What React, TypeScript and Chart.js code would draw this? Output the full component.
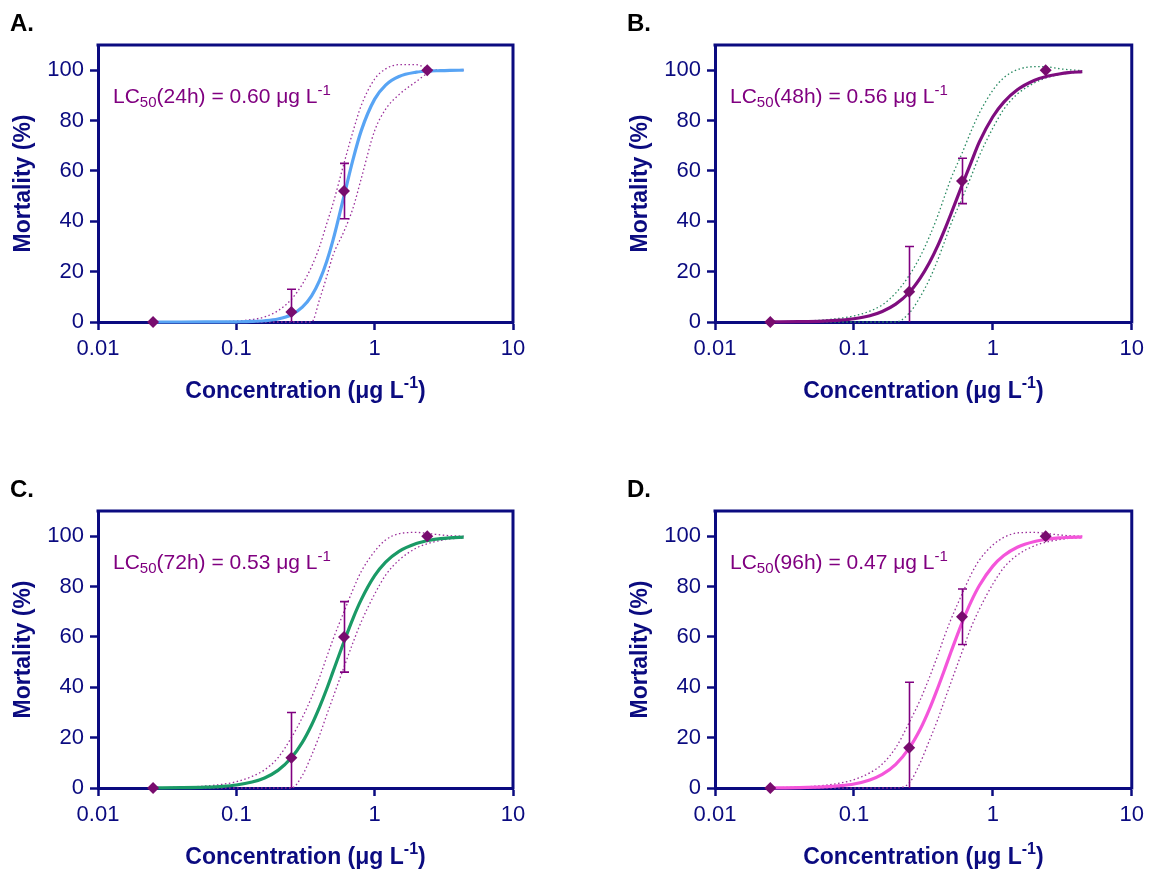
import React, { useEffect, useRef } from 'react';
import { Chart, registerables } from 'chart.js';

Chart.register(...registerables);

// ---------- data ----------
const CONC = [0.025, 0.25, 0.6, 2.4];

const CURVE_X = [0.025, 0.04, 0.06, 0.08, 0.1, 0.13, 0.16, 0.2, 0.25, 0.3, 0.35, 0.4, 0.45, 0.5, 0.6, 0.7, 0.8, 1.0, 1.2, 1.5, 2.0, 2.5, 3.0, 3.5, 4.4];

const X_TICKS = [0.01, 0.1, 1, 10];
const X_TICK_LABELS = ['0.01', '0.1', '1', '10'];
const Y_TICKS = [0, 20, 40, 60, 80, 100];

// 24 h
const MORT_24H = [0, 4, 52, 100];
const ERR_LO_24H = [0, 0, 41, 100];
const ERR_HI_24H = [0, 13, 63, 100];
const FIT_24H = [0, 0, 0.01, 0.03, 0.08, 0.22, 0.5, 1.2, 2.9, 5.9, 10.4, 16.5, 24, 32.5, 50, 64.9, 76, 88.5, 94.1, 97.5, 99.2, 99.7, 99.8, 99.9, 100];
const UPPER_24H = [0, 0, 0.05, 0.15, 0.4, 1.0, 2.0, 4.5, 9, 15, 22, 30, 39, 47, 63, 76, 86, 96.5, 100.5, 102.2, 102.2, 100.3, 100.1, 100, 100];
const LOWER_24H = [0, 0, 0, 0, 0, 0, 0, 0, 0, 0, 0, 9, 18, 26.5, 36, 45.5, 57, 76, 84.5, 90.3, 95.5, 99.2, 99.8, 99.9, 100];

// 48 h
const MORT_48H = [0, 12, 56, 100];
const ERR_LO_48H = [0, 0, 47, 100];
const ERR_HI_48H = [0, 30, 65, 100];
const FIT_48H = [0.04, 0.14, 0.37, 0.77, 1.3, 2.5, 4.2, 7.1, 11.7, 17.4, 23.6, 30.1, 36.7, 43, 54.3, 63.6, 71.5, 81.5, 87.3, 92.2, 96, 97.7, 98.5, 99, 99.4];
const UPPER_48H = [0.1, 0.3, 0.8, 1.5, 2.4, 4.3, 6.8, 11.5, 18.5, 26, 34, 42, 50, 57, 67, 76, 83, 92, 97, 100.2, 101.4, 101.3, 100.6, 100.2, 99.8];
const LOWER_48H = [0, 0, 0, 0, 0, 0, 0, 0, 3.5, 10, 17, 24.5, 32, 39, 49, 58, 66, 77, 84.5, 90.5, 95, 97.2, 98.2, 98.8, 99.2];

// 72 h
const MORT_72H = [0, 12, 60, 100];
const ERR_LO_72H = [0, 0, 46, 100];
const ERR_HI_72H = [0, 30, 74, 100];
const FIT_72H = [0.03, 0.11, 0.31, 0.66, 1.2, 2.4, 4.0, 7.0, 12, 18.1, 25, 32.2, 39.3, 46.2, 58.1, 67.6, 74.8, 84.3, 89.7, 94, 97.1, 98.4, 99, 99.3, 99.6];
const UPPER_72H = [0.1, 0.3, 0.8, 1.5, 2.5, 4.6, 7.2, 12, 20, 28, 36, 44, 52, 59, 70, 79, 86, 94, 98.5, 101, 101.5, 101, 100.5, 100.2, 100];
const LOWER_72H = [0, 0, 0, 0, 0, 0, 0, 0, 0, 5, 13, 21, 29, 36, 48, 58, 66, 77, 84.5, 90.5, 95.3, 97.3, 98.3, 98.9, 99.3];

// 96 h
const MORT_96H = [0, 16, 68, 100];
const ERR_LO_96H = [0, 0, 57, 100];
const ERR_HI_96H = [0, 42, 79, 100];
const FIT_96H = [0.04, 0.15, 0.43, 0.91, 1.6, 3.2, 5.4, 9.4, 15.8, 23.3, 31.4, 39.5, 47.1, 54.1, 65.6, 74.2, 80.4, 88.1, 92.3, 95.6, 97.9, 98.8, 99.3, 99.5, 99.7];
const UPPER_96H = [0.1, 0.35, 1.0, 2.0, 3.3, 6, 9.5, 16, 26, 35, 44, 52.5, 60.5, 67, 77, 85, 90.5, 96.5, 99.5, 101.3, 101.5, 101, 100.5, 100.2, 100];
const LOWER_96H = [0, 0, 0, 0, 0, 0, 0, 0, 2, 10, 19, 27, 35, 42, 54, 64, 71, 81, 87.5, 92.5, 96.2, 97.8, 98.6, 99.1, 99.4];

const PANEL_LABELS = ['A.', 'B.', 'C.', 'D.'];
const HOURS = ['24h', '48h', '72h', '96h'];
const LC50_VALUES = ['0.60', '0.56', '0.53', '0.47'];

// ---------- styles ----------
const NAVY = '#0b0b80';
const PURPLE = '#800080';
const MARKER = '#780c6e';
const FAMILY = '"Liberation Sans", Arial, Helvetica, sans-serif';

const PANELS = [
  { mort: MORT_24H, lo: ERR_LO_24H, hi: ERR_HI_24H, fit: FIT_24H, upper: UPPER_24H, lower: LOWER_24H, fitColor: '#58a4f4', bandColor: '#9b2f9b' },
  { mort: MORT_48H, lo: ERR_LO_48H, hi: ERR_HI_48H, fit: FIT_48H, upper: UPPER_48H, lower: LOWER_48H, fitColor: '#7f0d7f', bandColor: '#2a8a62' },
  { mort: MORT_72H, lo: ERR_LO_72H, hi: ERR_HI_72H, fit: FIT_72H, upper: UPPER_72H, lower: LOWER_72H, fitColor: '#1a9a66', bandColor: '#9b2f9b' },
  { mort: MORT_96H, lo: ERR_LO_96H, hi: ERR_HI_96H, fit: FIT_96H, upper: UPPER_96H, lower: LOWER_96H, fitColor: '#f455da', bandColor: '#9b2f9b' },
];

const LAYOUT = [
  { left: 0, top: 0, padRight: 20 },
  { left: 617, top: 0, padRight: 18 },
  { left: 0, top: 466, padRight: 20 },
  { left: 617, top: 466, padRight: 18 },
];

const CANVAS_W = 533;
const CANVAS_H = 405;

type Seg = { t: string; size: number; dy?: number; bold?: boolean };

function segFont(s: Seg) {
  return `${s.bold ? 'bold ' : ''}${s.size}px ${FAMILY}`;
}
function richWidth(ctx: CanvasRenderingContext2D, segs: Seg[]) {
  let w = 0;
  for (const s of segs) {
    ctx.font = segFont(s);
    w += ctx.measureText(s.t).width;
  }
  return w;
}
function drawRich(ctx: CanvasRenderingContext2D, segs: Seg[], x: number, y: number, color: string) {
  let cx = x;
  ctx.fillStyle = color;
  ctx.textBaseline = 'alphabetic';
  ctx.textAlign = 'left';
  for (const s of segs) {
    ctx.font = segFont(s);
    ctx.fillText(s.t, cx, y + (s.dy || 0));
    cx += ctx.measureText(s.t).width;
  }
}

function makeDecor(idx: number) {
  const p = PANELS[idx];
  return {
    id: 'decor' + idx,
    afterDatasetDraw(chart: any, args: any) {
      if (args.index !== 1) return;
      const ctx = chart.ctx as CanvasRenderingContext2D;
      const xs = chart.scales.x;
      const ys = chart.scales.y;
      ctx.save();
      ctx.strokeStyle = PURPLE;
      ctx.lineWidth = 1.6;
      for (let i = 0; i < CONC.length; i++) {
        if (!(p.hi[i] > p.lo[i])) continue;
        const px = Math.round(xs.getPixelForValue(CONC[i])) + 0.5;
        const yHi = ys.getPixelForValue(p.hi[i]);
        const yLo = ys.getPixelForValue(p.lo[i]);
        ctx.beginPath();
        ctx.moveTo(px, yLo);
        ctx.lineTo(px, yHi);
        ctx.moveTo(px - 4.5, yHi);
        ctx.lineTo(px + 4.5, yHi);
        if (p.lo[i] > 0) {
          ctx.moveTo(px - 4.5, yLo);
          ctx.lineTo(px + 4.5, yLo);
        }
        ctx.stroke();
      }
      ctx.restore();
    },
    afterDraw(chart: any) {
      const ctx = chart.ctx as CanvasRenderingContext2D;
      const a = chart.chartArea;
      ctx.save();
      // frame top & right
      ctx.strokeStyle = NAVY;
      ctx.lineWidth = 3;
      ctx.beginPath();
      ctx.moveTo(a.left - 1.5, a.top);
      ctx.lineTo(a.right, a.top);
      ctx.lineTo(a.right, a.bottom + 1.5);
      ctx.stroke();

      // panel letter
      ctx.fillStyle = '#000000';
      ctx.font = `bold 24px ${FAMILY}`;
      ctx.textAlign = 'left';
      ctx.textBaseline = 'alphabetic';
      ctx.fillText(PANEL_LABELS[idx], 10, 31);

      // LC50 label
      const lcSegs: Seg[] = [
        { t: 'LC', size: 21 },
        { t: '50', size: 15, dy: 4 },
        { t: `(${HOURS[idx]}) = ${LC50_VALUES[idx]} μg L`, size: 21 },
        { t: '-1', size: 15, dy: -8 },
      ];
      drawRich(ctx, lcSegs, a.left + 15, a.top + 58, PURPLE);

      // x title
      const xSegs: Seg[] = [
        { t: 'Concentration (μg L', size: 23, bold: true },
        { t: '-1', size: 16, bold: true, dy: -10 },
        { t: ')', size: 23, bold: true },
      ];
      const w = richWidth(ctx, xSegs);
      drawRich(ctx, xSegs, (a.left + a.right) / 2 - w / 2, 398, NAVY);

      // y title
      ctx.translate(24, (a.top + a.bottom) / 2);
      ctx.rotate(-Math.PI / 2);
      ctx.fillStyle = NAVY;
      ctx.font = `bold 23px ${FAMILY}`;
      ctx.textAlign = 'center';
      ctx.textBaseline = 'middle';
      ctx.fillText('Mortality (%)', 0, 0);
      ctx.restore();
    },
  };
}

function buildChart(canvas: HTMLCanvasElement, idx: number) {
  const p = PANELS[idx];
  const lay = LAYOUT[idx];
  const pts = CONC.map((x, i) => ({ x, y: p.mort[i] }));
  const fit = CURVE_X.map((x, i) => ({ x, y: p.fit[i] }));
  const up = CURVE_X.map((x, i) => ({ x, y: p.upper[i] }));
  const low = CURVE_X.map((x, i) => ({ x, y: p.lower[i] }));
  const tickFont = { family: FAMILY, size: 22 };
  const grid = {
    display: true,
    drawOnChartArea: false,
    drawTicks: true,
    tickLength: 8,
    tickWidth: 2.5,
    tickColor: NAVY,
    color: NAVY,
  };
  const border = { display: true, color: NAVY, width: 3 };
  return new Chart(canvas, {
    type: 'scatter',
    data: {
      datasets: [
        {
          data: pts,
          showLine: false,
          pointStyle: 'rectRot',
          pointRadius: 6,
          pointBackgroundColor: MARKER,
          pointBorderColor: MARKER,
          pointBorderWidth: 0,
          clip: false,
        },
        {
          data: fit,
          showLine: true,
          borderColor: p.fitColor,
          borderWidth: 3.2,
          pointRadius: 0,
          cubicInterpolationMode: 'monotone',
          clip: false,
        },
        {
          data: up,
          showLine: true,
          borderColor: p.bandColor,
          borderWidth: 1.3,
          borderDash: [1.5, 2.5],
          pointRadius: 0,
          cubicInterpolationMode: 'monotone',
          clip: false,
        },
        {
          data: low,
          showLine: true,
          borderColor: p.bandColor,
          borderWidth: 1.3,
          borderDash: [1.5, 2.5],
          pointRadius: 0,
          cubicInterpolationMode: 'monotone',
          clip: false,
        },
      ],
    } as any,
    options: {
      animation: false,
      responsive: false,
      events: [],
      layout: { padding: { left: 0, right: lay.padRight, top: 45, bottom: 0 } },
      scales: {
        x: {
          type: 'logarithmic',
          min: 0.01,
          max: 10,
          afterBuildTicks: (s: any) => {
            s.ticks = X_TICKS.map((v) => ({ value: v }));
          },
          afterFit: (s: any) => {
            s.height = CANVAS_H - 322;
          },
          ticks: {
            autoSkip: false,
            maxRotation: 0,
            color: NAVY,
            font: tickFont,
            padding: 6,
            callback: (_v: any, i: number) => X_TICK_LABELS[i],
          },
          grid,
          border,
        },
        y: {
          type: 'linear',
          min: 0,
          max: 110,
          afterBuildTicks: (s: any) => {
            s.ticks = Y_TICKS.map((v) => ({ value: v }));
          },
          afterFit: (s: any) => {
            s.width = 98;
          },
          ticks: {
            color: NAVY,
            font: tickFont,
            padding: 6,
            callback: (v: any) => String(v),
          },
          grid,
          border,
        },
      },
      plugins: { legend: { display: false }, tooltip: { enabled: false } },
    } as any,
    plugins: [makeDecor(idx)],
  });
}

function Panel({ idx }: { idx: number }) {
  const ref = useRef<HTMLCanvasElement | null>(null);
  useEffect(() => {
    if (!ref.current) return;
    const c = buildChart(ref.current, idx);
    return () => c.destroy();
  }, [idx]);
  const lay = LAYOUT[idx];
  return (
    <canvas
      ref={ref}
      width={CANVAS_W}
      height={CANVAS_H}
      style={{ position: 'absolute', left: lay.left, top: lay.top, width: CANVAS_W, height: CANVAS_H }}
    />
  );
}

export default function App() {
  return (
    <div style={{ position: 'absolute', left: 0, top: 0, width: 1150, height: 871, overflow: 'hidden', background: '#ffffff' }}>
      {[0, 1, 2, 3].map((i) => (
        <Panel key={i} idx={i} />
      ))}
    </div>
  );
}
